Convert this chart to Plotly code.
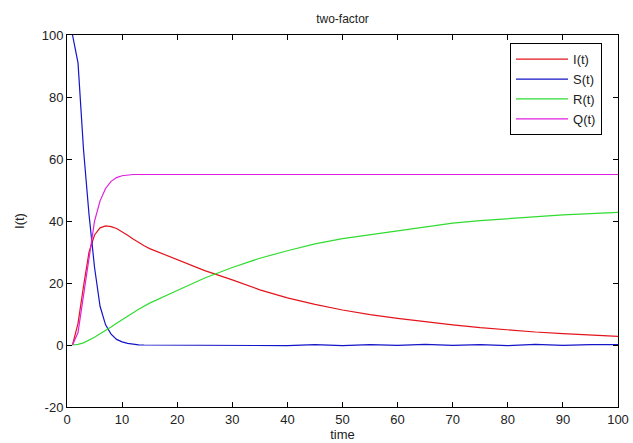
import plotly.graph_objects as go

t = [1, 2, 3, 4, 5, 6, 7, 8, 9, 10, 11, 12, 13, 14, 15,
     20, 25, 30, 35, 40, 45, 50, 55, 60, 65, 70, 75, 80, 85, 90, 95, 100]

I_vals = [0, 7, 19, 30, 35.5, 37.8, 38.4, 38.2, 37.6, 36.6, 35.4, 34.2, 33.0, 32.0, 31.1,
          27.5, 24.0, 21.0, 17.8, 15.2, 13.1, 11.3, 9.8, 8.6, 7.5, 6.5, 5.6, 4.8, 4.2, 3.7, 3.2, 2.8]
S_vals = [100, 91, 63, 42, 25, 12.5, 6.5, 3.5, 1.8, 1.0, 0.5, 0.2, 0.05, 0, 0,
          0, 0, 0, 0, -0.2, 0.1, -0.2, 0.1, -0.1, 0.2, -0.1, 0.1, -0.2, 0.2, -0.1, 0.1, 0.1]
R_vals = [0, 0.2, 0.7, 1.5, 2.5, 3.6, 4.6, 5.8, 7.0, 8.2, 9.3, 10.4, 11.5, 12.5, 13.5,
          17.6, 21.6, 25.0, 28.0, 30.4, 32.6, 34.3, 35.6, 36.9, 38.2, 39.3, 40.1, 40.8, 41.4, 42.0, 42.4, 42.8]
Q_vals = [0, 4, 16, 28, 40, 46.5, 50.5, 52.8, 54.0, 54.6, 54.9, 55, 55, 55, 55,
          55, 55, 55, 55, 55, 55, 55, 55, 55, 55, 55, 55, 55, 55, 55, 55, 55]

series = [("I(t)", I_vals, "#e3141c"),
          ("S(t)", S_vals, "#1414c8"),
          ("R(t)", R_vals, "#30dc30"),
          ("Q(t)", Q_vals, "#e01ee0")]

x_ticks = [0, 10, 20, 30, 40, 50, 60, 70, 80, 90, 100]
y_ticks = [-20, 0, 20, 40, 60, 80, 100]
y_ticktext = ["-20", "0", "20", "40", "60", "80", "100"]

fig = go.Figure()
for name, vals, col in series:
    fig.add_trace(go.Scatter(x=t, y=vals, mode="lines", name=name,
                             line=dict(color=col, width=1.2)))

axis_common = dict(showline=True, linecolor="black", linewidth=1, mirror="ticks",
                   ticks="inside", ticklen=5, tickcolor="black", showgrid=False,
                   zeroline=False, automargin=False,
                   tickfont=dict(family="Arial", size=13, color="#222"))

fig.update_layout(
    width=633, height=443,
    margin=dict(l=67, r=15, t=35, b=36),
    paper_bgcolor="white", plot_bgcolor="white",
    title=dict(text="two-factor", x=0.5, xref="paper", y=1 - 19 / 443, yref="container",
               yanchor="middle", xanchor="center",
               font=dict(family="Arial", size=12, color="#222")),
    xaxis=dict(range=[0, 100], tickvals=x_ticks,
               title=dict(text="time", standoff=2, font=dict(family="Arial", size=13, color="#222")),
               **axis_common),
    yaxis=dict(range=[-20, 100], tickvals=y_ticks, ticktext=y_ticktext,
               title=dict(text="I(t)", standoff=14, font=dict(family="Arial", size=13, color="#222")),
               **axis_common),
    legend=dict(x=0.971, y=0.978, xanchor="right", yanchor="top",
                bordercolor="black", borderwidth=1, bgcolor="white",
                font=dict(family="Arial", size=13, color="#222"),
                tracegroupgap=0, itemwidth=52),
    showlegend=True,
)

fig.write_html("out.html")
